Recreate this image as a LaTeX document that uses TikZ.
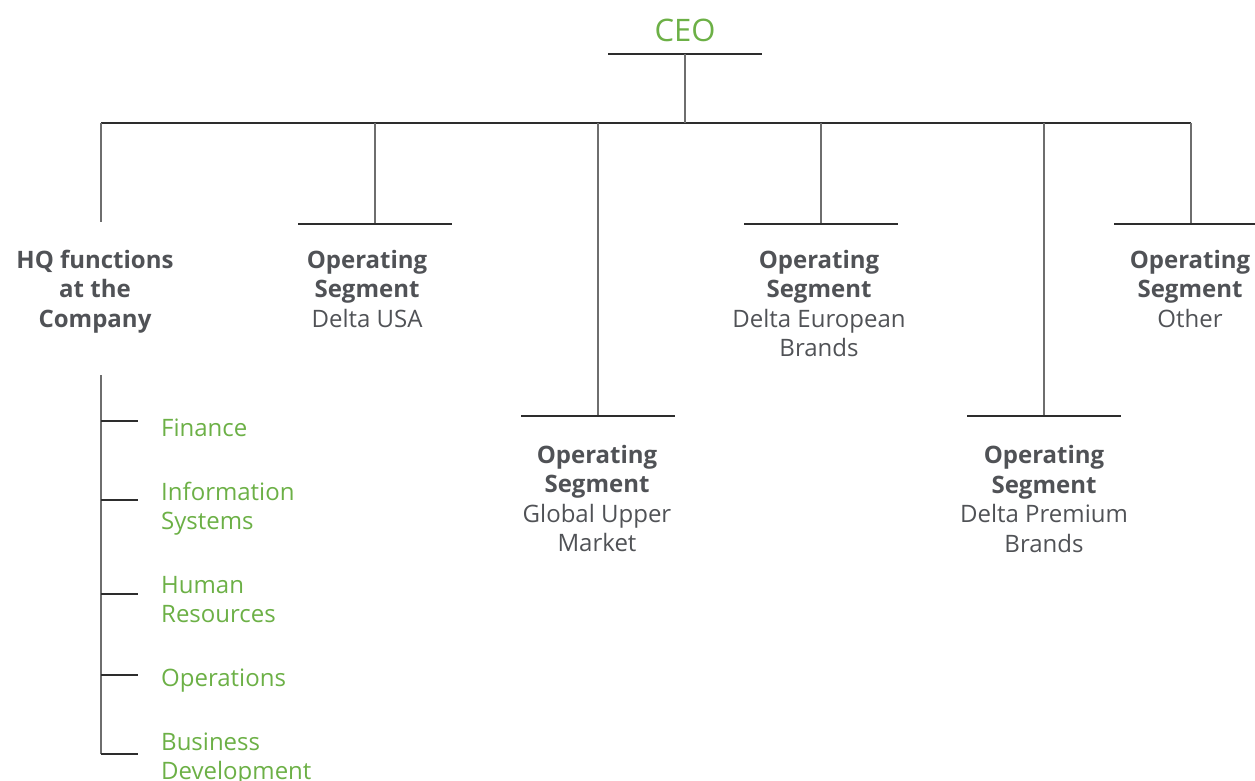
\documentclass[tikz,border=0pt]{standalone}
\usepackage{fontspec}
\setmainfont{Open Sans}
\definecolor{leafgreen}{RGB}{108,176,70}
\definecolor{inkgray}{RGB}{80,82,86}
\definecolor{stemgray}{RGB}{110,110,110}
\definecolor{bargray}{RGB}{45,45,45}
\begin{document}
\begin{tikzpicture}[x=1pt,y=-1pt,
  stem/.style={draw=stemgray,line width=1.6pt},
  bar/.style={draw=bargray,line width=1.1pt},
  seg/.style={align=center,text=inkgray,inner sep=0pt,anchor=base,
    font=\fontsize{24}{29.5}\selectfont},
  hqitem/.style={align=left,text=leafgreen,inner sep=0pt,anchor=base west,
    font=\fontsize{24}{29}\selectfont},
  ceo/.style={text=leafgreen,inner sep=0pt,anchor=base,
    font=\fontsize{31}{36}\selectfont}]
\useasboundingbox (0,0) rectangle (1255,781);

% top of the chart
\node[ceo] (ceo) at (685,42) {CEO};
\coordinate (ceoL) at (608,54);
\coordinate (ceoR) at (762,54);
\coordinate (ceoM) at (685,54);
\draw[bar] (ceoL) -- (ceoR);

% main bus
\coordinate (busL) at (101,123);
\coordinate (busR) at (1191,123);
\coordinate (busM) at (685,123);
\draw[bar] (busL) -- (busR);
\draw[stem] (ceoM) -- (busM);

% drops from the bus
\coordinate (hqTop) at (101,123);
\coordinate (hqEnd) at (101,222);
\draw[stem] (hqTop) -- (hqEnd);

\foreach \n/\x/\y in {usa/375/224, gum/598/416, eur/821/224, prm/1044/416, oth/1191/224}{
  \coordinate (\n Top) at (\x,123);
  \coordinate (\n Foot) at (\x,\y);
  \coordinate (\n L) at (\x-77,\y);
  \coordinate (\n R) at (\x+77,\y);
  \draw[stem] (\n Top) -- (\n Foot);
  \draw[bar] (\n L) -- (\n R);
}

% headings (anchored on the baseline of their last line)
\node[seg] (hq) at (95,327) {\textbf{HQ functions}\\\textbf{at the}\\\textbf{Company}};
\node[seg] (usa) at (367,327) {\textbf{Operating}\\\textbf{Segment}\\Delta USA};
\node[seg] (gum) at (597,551.5) {\textbf{Operating}\\\textbf{Segment}\\Global Upper\\Market};
\node[seg] (eur) at (819,356.5) {\textbf{Operating}\\\textbf{Segment}\\Delta European\\Brands};
\node[seg] (prm) at (1044,552) {\textbf{Operating}\\\textbf{Segment}\\Delta Premium\\Brands};
\node[seg] (oth) at (1190,327) {\textbf{Operating}\\\textbf{Segment}\\Other};

% HQ function list
\coordinate (listTop) at (101,375);
\coordinate (listEnd) at (101,754);
\draw[stem] (listTop) -- (listEnd);
\foreach \n/\y in {fin/421, ins/500, hum/594, ops/675, bus/754}{
  \coordinate (\n A) at (101,\y);
  \coordinate (\n B) at (138,\y);
  \draw[bar] (\n A) -- (\n B);
}
\node[hqitem] (fin) at (161,436) {Finance};
\node[hqitem] (ins) at (161,529) {Information\\Systems};
\node[hqitem] (hum) at (161,622) {Human\\Resources};
\node[hqitem] (ops) at (161,686) {Operations};
\node[hqitem] (bus) at (161,779) {Business\\Development};
\end{tikzpicture}
\end{document}
